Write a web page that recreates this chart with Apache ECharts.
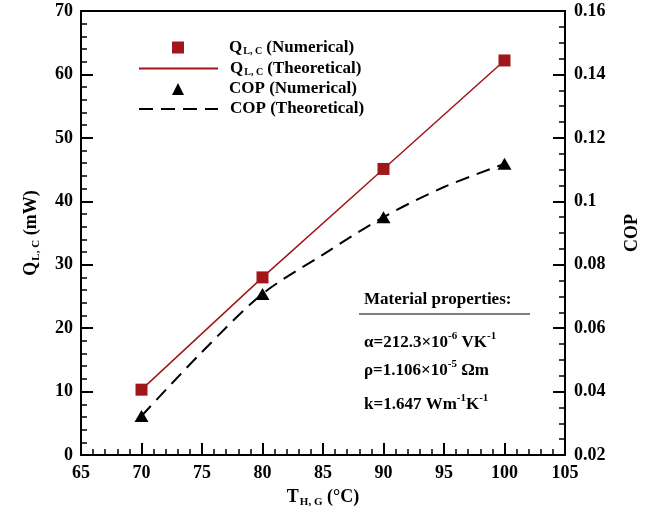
<!DOCTYPE html>
<html>
<head>
<meta charset="utf-8">
<script src="https://cdn.jsdelivr.net/npm/echarts@6/dist/echarts.min.js"></script>
<style>
  html, body { margin: 0; padding: 0; background: #ffffff; }
  #chart { width: 654px; height: 518px; }
</style>
</head>
<body>
<div id="chart"></div>
<script>
// data
const temps = [70, 80, 90, 100]
const qNumerical = [10.3, 28.0, 45.1, 62.2]
const qTheoretical = [10.3, 28.0, 45.1, 62.2]
const copNumerical = [0.0323, 0.0708, 0.095, 0.1118]
const copTheoryTemps = [70, 75, 80, 85, 90, 95, 100]
const copTheoretical = [0.0323, 0.0525, 0.0708, 0.0832, 0.095, 0.1045, 0.1118]

const FONT = 'Liberation Serif'
const RED = '#A0161A'

const pairs = (xs, ys) => xs.map((x, i) => [x, ys[i]])

const chart = echarts.init(document.getElementById('chart'))

const baseText = { fontFamily: FONT, fontWeight: 'bold', color: '#000' }

// rich styles for subscripts / superscripts
const legendRich = {
  a: { ...baseText, fontSize: 17, lineHeight: 18, verticalAlign: 'middle' },
  s: { ...baseText, fontSize: 10, lineHeight: 6, verticalAlign: 'bottom', padding: [0, 0, 0, 1] }
}
const nameRich = {
  a: { ...baseText, fontSize: 18, lineHeight: 22, verticalAlign: 'middle' },
  s: { ...baseText, fontSize: 11, lineHeight: 8, verticalAlign: 'bottom', padding: [0, 0, 0, 1] }
}
const supRich = {
  a: { ...baseText, fontSize: 17, lineHeight: 20, verticalAlign: 'bottom' },
  p: { ...baseText, fontSize: 11, lineHeight: 20, verticalAlign: 'top' }
}
const legendFormatter = name => {
  if (name.indexOf('Q') === 0) {
    return '{a|Q}{s|L, C}{a|' + name.slice(1) + '}'
  }
  return '{a|' + name + '}'
}

const axisLine = { show: true, onZero: false, lineStyle: { color: '#000', width: 2 } }
const majorTick = () => ({ show: true, inside: true, length: 12, lineStyle: { color: '#000', width: 2 } })
const minorTick = n => ({ show: true, splitNumber: n, length: 6, lineStyle: { color: '#000', width: 1.5 } })

const noteTitle = (text, top) => ({
  text: text,
  left: 364,
  top: top,
  padding: 0,
  textStyle: { ...baseText, fontSize: 17, rich: supRich }
})

chart.setOption({
  backgroundColor: '#ffffff',
  animation: false,
  grid: {
    left: 81,
    right: 89,
    top: 11,
    bottom: 63
  },
  title: [
    noteTitle('Material properties:', 291),
    noteTitle('{a|α=212.3×10}{p|-6}{a| VK}{p|-1}', 331),
    noteTitle('{a|ρ=1.106×10}{p|-5}{a| Ωm}', 359),
    noteTitle('{a|k=1.647 Wm}{p|-1}{a|K}{p|-1}', 393)
  ],
  legend: [
    {
      orient: 'vertical',
      left: 167,
      top: 34,
      itemWidth: 12,
      itemHeight: 12,
      itemGap: 24,
      selectedMode: false,
      textStyle: { ...baseText, fontSize: 17, padding: [0, 0, 0, 40], rich: legendRich },
      formatter: legendFormatter,
      data: ['Q (Numerical)', 'COP (Numerical)']
    },
    {
      orient: 'vertical',
      left: 133,
      top: 55,
      itemWidth: 79,
      itemHeight: 12,
      itemGap: 23,
      selectedMode: false,
      itemStyle: { color: 'rgba(0,0,0,0)', borderWidth: 0 },
      textStyle: { ...baseText, fontSize: 17, padding: [0, 0, 0, 7], rich: legendRich },
      formatter: legendFormatter,
      data: ['Q (Theoretical)', 'COP (Theoretical)']
    }
  ],
  xAxis: [
    {
      type: 'value',
      min: 65,
      max: 105,
      interval: 5,
      name: '{a|T}{s|H, G}{a| (°C)}',
      nameLocation: 'middle',
      nameGap: 31,
      nameTextStyle: { rich: nameRich },
      axisLine: axisLine,
      axisTick: majorTick(),
      minorTick: minorTick(5),
      axisLabel: { ...baseText, fontSize: 18, margin: 9 },
      splitLine: { show: false }
    },
    {
      // top frame line only
      type: 'value',
      position: 'top',
      min: 65,
      max: 105,
      interval: 5,
      axisLine: axisLine,
      axisTick: { show: false },
      axisLabel: { show: false },
      splitLine: { show: false }
    }
  ],
  yAxis: [
    {
      type: 'value',
      min: 0,
      max: 70,
      interval: 10,
      name: '{a|Q}{s|L, C}{a| (mW)}',
      nameLocation: 'middle',
      nameRotate: 90,
      nameGap: 39,
      nameTextStyle: { rich: nameRich },
      axisLine: axisLine,
      axisTick: majorTick(),
      minorTick: minorTick(5),
      axisLabel: { ...baseText, fontSize: 18, margin: 8 },
      splitLine: { show: false }
    },
    {
      type: 'value',
      position: 'right',
      min: 0.02,
      max: 0.16,
      interval: 0.02,
      name: 'COP',
      nameLocation: 'middle',
      nameRotate: 90,
      nameGap: 58,
      nameTextStyle: { ...baseText, fontSize: 18 },
      axisLine: axisLine,
      axisTick: majorTick(),
      minorTick: minorTick(4),
      axisLabel: {
        ...baseText,
        fontSize: 18,
        margin: 9,
        formatter: v => String(parseFloat(v.toFixed(2)))
      },
      splitLine: { show: false }
    }
  ],
  graphic: [
    {
      type: 'line',
      shape: { x1: 359, y1: 314, x2: 530, y2: 314 },
      style: { stroke: '#000', lineWidth: 1 }
    }
  ],
  series: [
    {
      name: 'Q (Theoretical)',
      type: 'line',
      yAxisIndex: 0,
      symbol: 'none',
      lineStyle: { color: RED, width: 1.5 },
      itemStyle: { color: RED },
      data: pairs(temps, qTheoretical),
      z: 2
    },
    {
      name: 'Q (Numerical)',
      type: 'scatter',
      yAxisIndex: 0,
      symbol: 'rect',
      symbolSize: 12,
      itemStyle: { color: RED, opacity: 1 },
      data: pairs(temps, qNumerical),
      z: 4
    },
    {
      name: 'COP (Theoretical)',
      type: 'line',
      yAxisIndex: 1,
      symbol: 'none',
      smooth: 0.3,
      lineStyle: { color: '#000', width: 2, type: [14, 8] },
      itemStyle: { color: '#000' },
      data: pairs(copTheoryTemps, copTheoretical),
      z: 2
    },
    {
      name: 'COP (Numerical)',
      type: 'scatter',
      yAxisIndex: 1,
      symbol: 'triangle',
      symbolSize: [14, 12],
      itemStyle: { color: '#000', opacity: 1 },
      data: pairs(temps, copNumerical),
      z: 4
    }
  ]
})
</script>
</body>
</html>
